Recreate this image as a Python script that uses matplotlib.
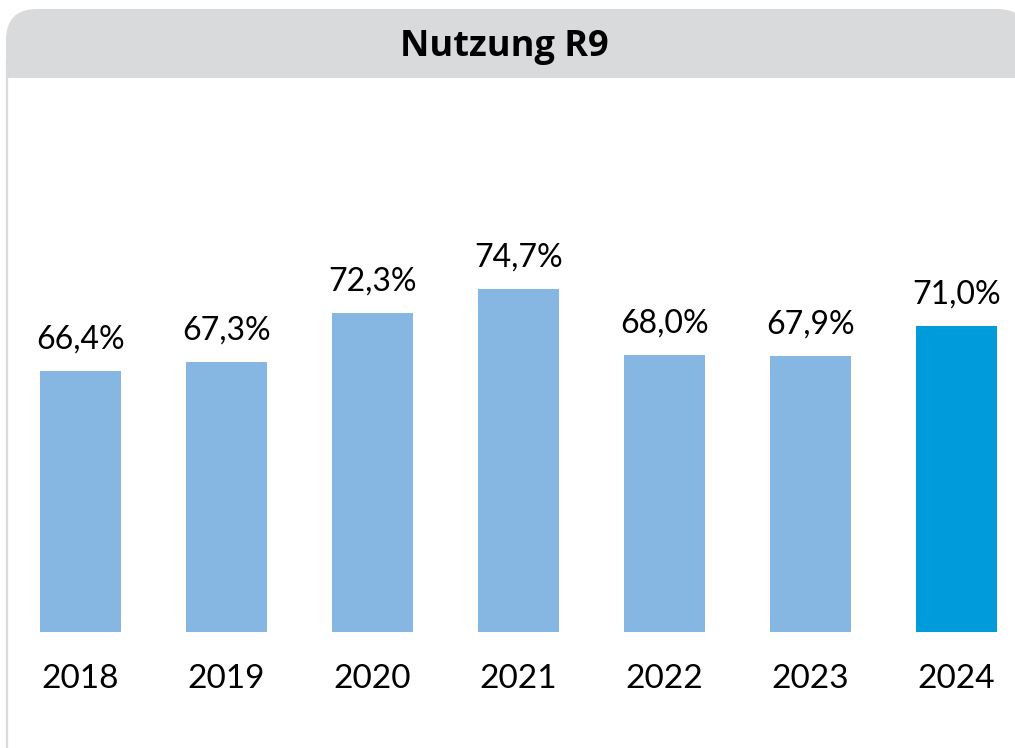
import matplotlib.pyplot as plt
from matplotlib.patches import FancyBboxPatch, Rectangle

plt.rcParams['font.family'] = ['Lato', 'DejaVu Sans']

jahre = ["2018", "2019", "2020", "2021", "2022", "2023", "2024"]
nutzung = [66.4, 67.3, 72.3, 74.7, 68.0, 67.9, 71.0]
titel = "Nutzung R9"

farben = ["#85b7e2"] * 6 + ["#009bdb"]

W, H = 1015, 748
fig = plt.figure(figsize=(W / 100, H / 100), dpi=100)

# Hintergrund mit grauem Kopfbereich (Pixelkoordinaten)
bg = fig.add_axes([0, 0, 1, 1])
bg.set_xlim(0, W)
bg.set_ylim(H, 0)
bg.axis("off")
bg.add_patch(FancyBboxPatch((6, 9), 1022, 120, boxstyle="round,pad=0,rounding_size=31",
                            fc="#d9dadc", ec="none"))
bg.add_patch(Rectangle((8, 78), W, H, fc="white", ec="none"))
bg.plot([7, 7], [60, H], color="#d9d9d9", lw=1.6, solid_capstyle="butt")
bg.text(504, 47, titel, ha="center", va="center", fontsize=26, fontweight="bold",
        color="black", family=["Open Sans", "DejaVu Sans"])

# Balkendiagramm
y0, y1 = 632, 80          # Pixel: Basislinie, Oberkante Achse
px_pro_prozent = 9.88
ax = fig.add_axes([0, (H - y0) / H, 1, (y0 - y1) / H])
ax.set_facecolor("none")
x = list(range(len(jahre)))
ax.bar(x, [v - 40 for v in nutzung], bottom=40, width=81 / 146, color=farben)
ax.set_xlim(-80.5 / 146, (W - 80.5) / 146)
ax.set_ylim(40, 40 + (y0 - y1) / px_pro_prozent)

for xi, v in zip(x, nutzung):
    ax.annotate(f"{v:.1f}%".replace(".", ","), (xi, v), xytext=(0, 12), textcoords="offset points",
                ha="center", va="bottom", fontsize=23)

ax.set_xticks(x)
ax.set_xticklabels(jahre, fontsize=24)
ax.tick_params(axis="x", length=0, pad=23)
ax.set_yticks([])
for s in ax.spines.values():
    s.set_visible(False)

fig.savefig("out.png", dpi=100)
